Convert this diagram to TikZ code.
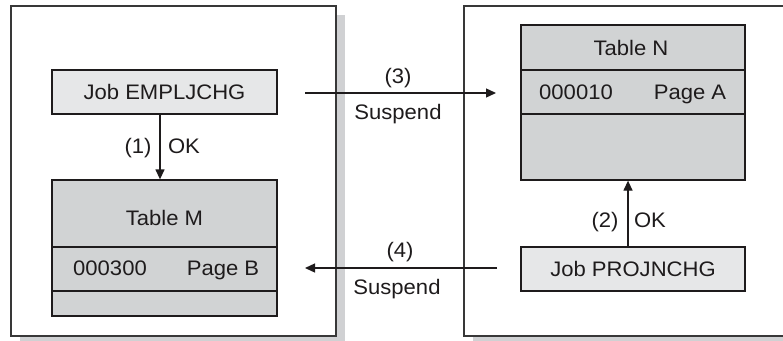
\documentclass[tikz,border=0pt]{standalone}
\usepackage{fontspec}
\setmainfont{Liberation Sans}[FakeStretch=1.05]
\usetikzlibrary{arrows.meta}
\definecolor{shadowgray}{HTML}{D0D1D3}
\definecolor{tablegray}{HTML}{D1D3D4}
\definecolor{jobgray}{HTML}{E6E7E8}
\definecolor{linegray}{HTML}{383838}
\definecolor{inkgray}{HTML}{1E1B1C}
\begin{document}
\begin{tikzpicture}[x=1pt,y=-1pt,
  panel/.style={draw=linegray, line width=1.6pt, fill=white, inner sep=0pt, anchor=north west},
  jobbox/.style={draw=inkgray, line width=1.3pt, fill=jobgray, inner sep=0pt, minimum width=225pt, minimum height=44pt},
  tablebox/.style={draw=inkgray, line width=1.3pt, fill=tablegray, inner sep=0pt, minimum width=225pt},
  divider/.style={draw=inkgray, line width=1.3pt},
  lbl/.style={font=\fontsize{21}{25}\selectfont, text=inkgray, inner sep=0pt, text height=15pt, text depth=0pt},
  conn/.style={draw=inkgray, line width=1.3pt, -{Triangle[length=10pt,width=9pt]}}
]
\clip (0,0) rectangle (783,340);
\useasboundingbox (0,0) rectangle (783,340);
% shadows
\fill[shadowgray] (20,15) rectangle (345,345);
\fill[shadowgray] (473,15) rectangle (800,345);
% panels
\node[panel, minimum width=325pt, minimum height=330pt] (pl) at (10,5) {};
\node[panel, minimum width=340pt, minimum height=330pt] (pr) at (463,5) {};
% left side
\node[jobbox] (jobE) at (164.5,92) {};
\node[lbl] (jobEt) at (jobE.center) {Job EMPLJCHG};
\node[tablebox, minimum height=136pt] (tm) at (164.5,248) {};
\draw[divider] (tm.west |- 0,247) -- (tm.east |- 0,247);
\draw[divider] (tm.west |- 0,291) -- (tm.east |- 0,291);
\node[lbl] (tmt) at (164.5,218) {Table M};
\node[lbl] (tmk) at (110,268) {000300};
\node[lbl] (tmp) at (223,268) {Page B};
\coordinate (x1) at (160,0);
\draw[conn] (jobE.south -| x1) -- (tm.north -| x1);
\node[lbl] (l1a) at (138,146) {(1)};
\node[lbl] (l1b) at (184,146) {OK};
% right side
\node[tablebox, minimum width=224pt, minimum height=155pt] (tn) at (633,102.5) {};
\draw[divider] (tn.west |- 0,70) -- (tn.east |- 0,70);
\draw[divider] (tn.west |- 0,114) -- (tn.east |- 0,114);
\node[lbl] (tnt) at (631,48) {Table N};
\node[lbl] (tnk) at (576,92) {000010};
\node[lbl] (tnp) at (690,92) {Page A};
\node[jobbox, minimum width=224pt] (jobP) at (633,269) {};
\node[lbl] (jobPt) at (jobP.center) {Job PROJNCHG};
\coordinate (x2) at (628,0);
\draw[conn] (jobP.north -| x2) -- (tn.south -| x2);
\node[lbl] (l2a) at (605,220) {(2)};
\node[lbl] (l2b) at (650,220) {OK};
% suspend arrows
\coordinate (s3) at (305,93);
\coordinate (e3) at (496,93);
\draw[conn] (s3) -- (e3);
\node[lbl] (l3a) at (398,76) {(3)};
\node[lbl] (l3b) at (398,112) {Suspend};
\coordinate (s4) at (497,268);
\coordinate (e4) at (305,268);
\draw[conn] (s4) -- (e4);
\node[lbl] (l4a) at (400,250) {(4)};
\node[lbl] (l4b) at (397,287) {Suspend};
\end{tikzpicture}
\end{document}
